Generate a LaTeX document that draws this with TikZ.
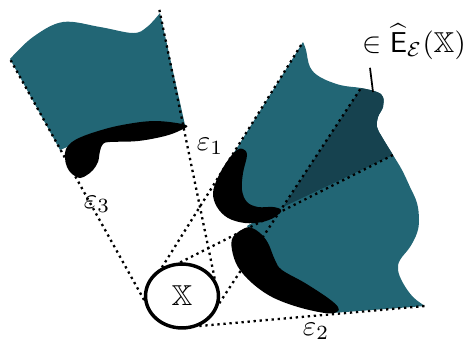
\documentclass[tikz,border=0pt]{standalone}
\usepackage{amsmath}
\usepackage{amssymb}
\usepackage{xcolor}
\usetikzlibrary{shapes.geometric, calc}
\definecolor{flagteal}{RGB}{34,102,117}
\definecolor{flagdark}{RGB}{22,66,79}
\tikzstyle{flag} = [fill=flagteal]
\tikzstyle{blob} = [fill=black]
\tikzstyle{ray} = [line width=0.8pt, dash pattern=on 0.8pt off 1.3pt]
\tikzstyle{eps} = [inner sep=0pt]
\tikzstyle{pointer} = [line width=0.6pt]
% outline of the right fan, used for the fill and for the clip
\newcommand{\rightflag}{(303,42) -- (220,175) -- (225,195) -- (240,212) -- (265,215) -- (247,226) -- (252,235) -- (255,255) -- (270,280) -- (300,298) -- (332,313) -- (425,306) -- plot[smooth, tension=0.6] coordinates {(425,306) (413,297) (403,283) (398,270) (400,260) (410,247) (417,233) (419,220) (417,203) (410,187) (402,170) (393,155) (382,137) (377,127) (378,117) (383,107) (383,97) (377,92) (361,88) (340,85) (320,77) (310,67) (306,50) (303,42)} -- cycle}

\begin{document}
\begin{tikzpicture}[x=0.0122cm, y=-0.0122cm]
\useasboundingbox (0,0) rectangle (463,343);

\coordinate (lfTL) at (10,59);
\coordinate (lfTR) at (159,8);
\coordinate (rfTL) at (303,42);
\coordinate (rfA) at (361,88);
\coordinate (rfB) at (393,155);
\coordinate (rfBR) at (425,306);

% left flag
\fill[flag] (10,59) -- plot[smooth, tension=0.6] coordinates {(10,59) (33,37) (63,22) (100,27) (133,33) (147,27) (160,13)} -- (185,125) -- (140,130) -- (90,138) -- (72,145) -- (60,150) -- cycle;

% right flag with the dark sector
\fill[flag] \rightflag;
\begin{scope}
\clip \rightflag;
\fill[flagdark] (283,207) -- (450,128) -- (450,40) -- (386,50) -- cycle;
\end{scope}

\node (X) [ellipse, draw, line width=1.2pt, inner sep=0pt, minimum width=0.89cm, minimum height=0.78cm] at (182,296) {$\mathbb{X}$};

\draw[ray] (X.186) -- (lfTL);
\draw[ray] (X.28) -- (lfTR);
\draw[ray] (X.125) -- (rfTL);
\draw[ray] (X.93) -- (rfB);
\draw[ray] (X.349) -- (rfA);
\draw[ray] (X.300) -- (rfBR);

% blobs
\fill[blob] plot[smooth cycle, tension=0.6] coordinates {(186,125) (155,121) (122,125) (95,132) (75,140) (66,149) (65,158) (67,167) (72,174) (80,178) (87,175) (93,170) (98,162) (100,151) (103,144) (110,142) (138,141) (165,136) (181,130)};
\fill[blob] plot[smooth cycle, tension=0.6] coordinates {(243,149) (247,155) (243,173) (242,190) (247,202) (258,207) (273,207) (281,210) (275,217) (262,222) (245,223) (228,218) (217,207) (213,193) (218,177) (228,160) (237,150)};
\fill[blob] plot[smooth cycle, tension=0.6] coordinates {(245,228) (233,237) (232,250) (238,267) (252,283) (272,297) (298,307) (325,313) (337,312) (338,307) (328,298) (305,283) (282,270) (275,260) (268,243) (260,233) (252,228)};

% labels
\node (eone) [eps] at (210,146) {$\varepsilon_1$};
\node (ethree) [eps] at (97,204) {$\varepsilon_3$};
\node (etwo) [eps] at (316,331) {$\varepsilon_2$};
\node (elabel) [eps, anchor=base west] at (362,52) {$\in \widehat{\mathsf{E}}_{\mathcal{E}}(\mathbb{X})$};
\coordinate (ptrend) at (373,92);
\draw[pointer] (elabel.south west) ++(8,8) -- (ptrend);
\end{tikzpicture}
\end{document}
